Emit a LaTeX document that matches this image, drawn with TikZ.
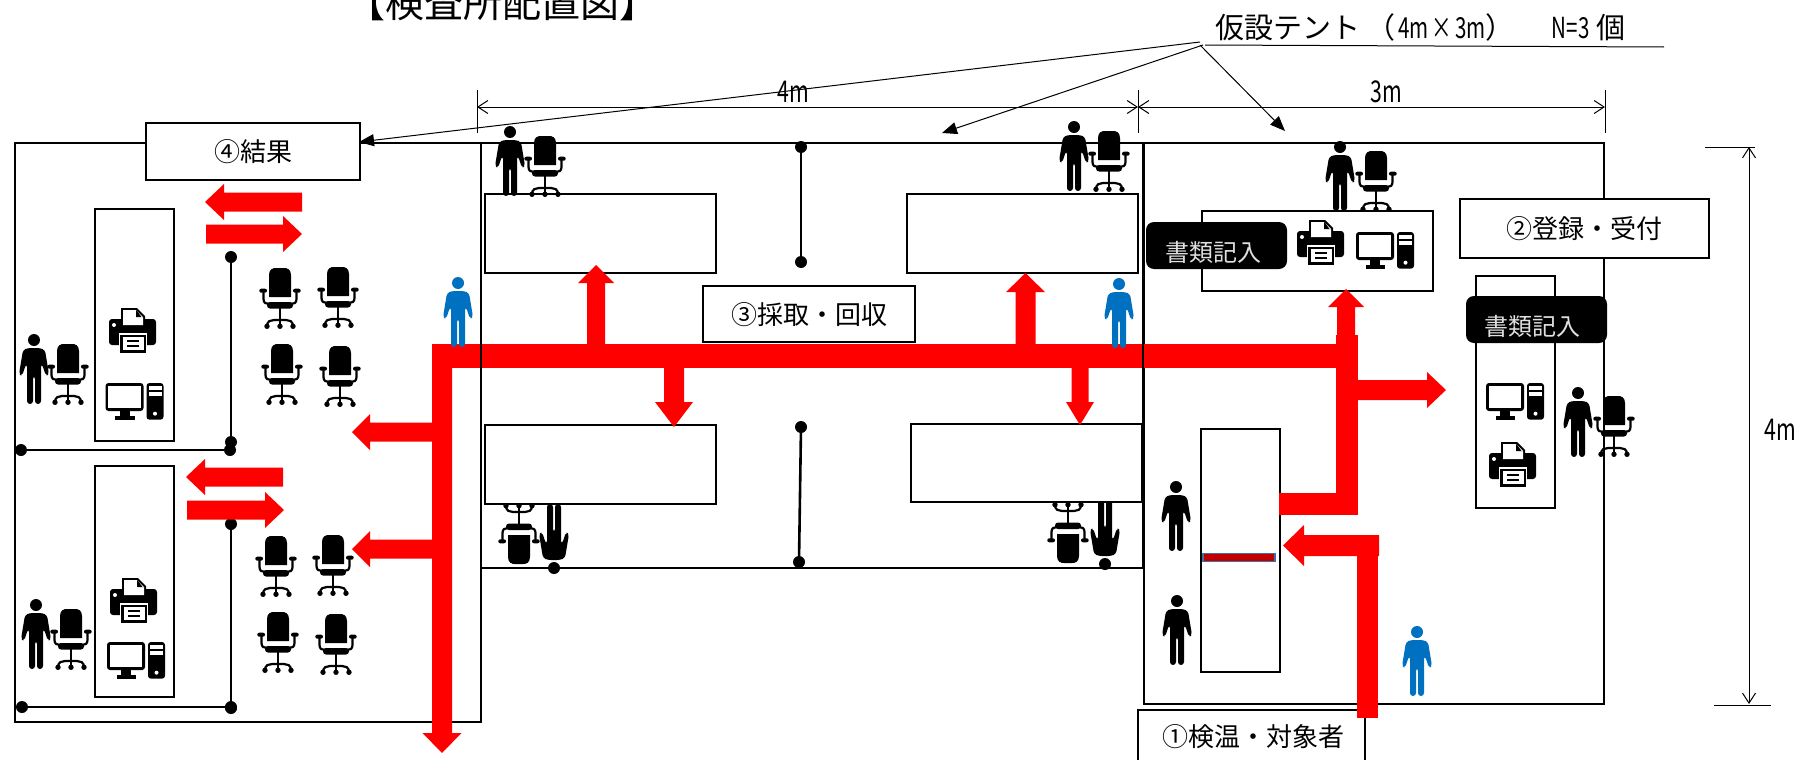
\documentclass[tikz,border=0pt]{standalone}
\usepackage{fontspec}
\setmainfont{Noto Sans CJK JP}
\newfontfamily\hw[FakeStretch=0.71]{Noto Sans CJK JP}
\usetikzlibrary{arrows.meta}
\newcommand{\harrow}[6]{\fill[redflow] (#1,{#3-#4}) -- ({#2-(#5)},{#3-#4}) -- ({#2-(#5)},{#3-#6}) -- (#2,#3) -- ({#2-(#5)},{#3+#6}) -- ({#2-(#5)},{#3+#4}) -- (#1,{#3+#4}) -- cycle;}
\newcommand{\varrow}[6]{\fill[redflow] ({#3-#4},#1) -- ({#3-#4},{#2-(#5)}) -- ({#3-#6},{#2-(#5)}) -- (#3,#2) -- ({#3+#6},{#2-(#5)}) -- ({#3+#4},{#2-(#5)}) -- ({#3+#4},#1) -- cycle;}
\tikzset{
  redflow/.style={fill={rgb,255:red,255;green,0;blue,0}},
  tent/.style={draw=black,line width=0.95pt},
  desk/.style={draw=black,line width=0.95pt,fill=white},
  partition/.style={draw=black,line width=1.3pt},
  labelbox/.style={draw=black,line width=0.8pt,fill=white},
  lbl/.style={font=\fontsize{13}{15}\selectfont,text=black,inner sep=0pt},
  dimlbl/.style={font=\fontsize{15}{17}\selectfont\hw,text=black,inner sep=0pt},
  formbox/.style={fill=black,rounded corners=4pt},
  formtext/.style={font=\fontsize{12}{15}\selectfont,text=black!12,inner sep=0pt},
  dim/.style={draw=black,line width=0.5pt},
  dimarrow/.style={dim,{Straight Barb[length=5pt,width=6.5pt]}-{Straight Barb[length=5pt,width=6.5pt]}},
  leader/.style={draw=black,line width=0.5pt,-{Triangle[length=7.5pt,width=6pt]}},
  personicon/.pic={
    \fill[pic actions] (0,6) circle (6);
    \fill[pic actions,rounded corners=1.5pt] (-6,14) -- (-11,16) -- (-15,40) -- (-12,42) -- (-8,30) -- (-7,30) -- (-7,70) -- (-1,70) -- (-1,42) -- (1,42) -- (1,70) -- (7,70) -- (7,30) -- (8,30) -- (12,42) -- (15,40) -- (11,16) -- (6,14) -- cycle;
  },
  chairicon/.pic={
    \fill (-11,29) -- (-11,7) .. controls (-11,1) and (-7,0) .. (-4,0) -- (4,0) .. controls (7,0) and (11,1) .. (11,7) -- (11,29) -- cycle;
    \fill[rounded corners=1pt] (-20.7,20.7) rectangle (-13,24.7);
    \fill[rounded corners=1pt] (13,20.7) rectangle (20.7,24.7);
    \draw[line width=1.1pt] (-16.5,23) -- (-16.5,31) .. controls (-16.5,35) and (-14,36) .. (-11,36) -- (11,36) .. controls (14,36) and (16.5,35) .. (16.5,31) -- (16.5,23);
    \fill[rounded corners=1.5pt] (-13,34) rectangle (13,40.5);
    \draw[line width=1.1pt] (0,40) -- (0,58);
    \draw[line width=1.1pt] (-13,58) .. controls (-13,53) and (-9,52) .. (-6,52) -- (6,52) .. controls (9,52) and (13,53) .. (13,58);
    \fill (-13,58.3) circle (2.7);
    \fill (0,58.3) circle (2.7);
    \fill (13,58.3) circle (2.7);
  },
  printericon/.pic={
    \fill[rounded corners=1.5pt] (0,11) rectangle (47,37);
    \fill[white] (9.5,25) rectangle (37.5,37.5);
    \fill (12,0) -- (28,0) -- (36,8) -- (36,17) -- (12,17) -- cycle;
    \fill[white] (14,2) -- (27,2) -- (34,9) -- (34,17) -- (14,17) -- cycle;
    \fill (27,2) -- (27,9) -- (34,9) -- (32.5,9) -- (28.5,3.5) -- cycle;
    \fill[white] (5,17) circle (2);
    \fill (11,27) rectangle (37,44.5);
    \fill[white] (13.5,29) rectangle (34.5,42);
    \fill (18,32) rectangle (29.5,34.2);
    \fill (18,37) rectangle (29.5,39.2);
  },
  computericon/.pic={
    \fill[rounded corners=1.5pt] (0,0) rectangle (38,28);
    \fill[white] (2.6,2.6) rectangle (35.4,25);
    \fill (14,28) rectangle (24,33.5);
    \fill (9.5,33) rectangle (29,36.7);
    \fill[rounded corners=1.5pt] (41,0) rectangle (58,36.7);
    \fill[white] (43.3,2.7) rectangle (56,6.7);
    \fill[white] (43.3,9) rectangle (56,13.3);
    \fill[white] (49.5,30.7) circle (2);
  },
}
\definecolor{bluefig}{HTML}{0070C0}
\begin{document}
\begin{tikzpicture}[x=0.5pt,y=-0.5pt]
\useasboundingbox (0,0) rectangle (1801,760);
\clip (0,0) rectangle (1801,760);
\fill[white] (0,0) rectangle (1801,760);

% tents
\draw[tent] (15,143) rectangle (481,722);
\draw[tent] (481,143) rectangle (1143,568);
\draw[tent] (1144,143) rectangle (1604,704);

% title
\node[lbl,font=\fontsize{19.5}{22}\selectfont] (title) at (502,3) {【検査所配置図】};
\node[lbl,anchor=west,font=\fontsize{14.5}{17}\selectfont] (tentlabel) at (1215,27) {仮設テント\hspace{3pt}（\hspace{1.5pt}{\hw 4m}\hspace{1.5pt}{\hw ×}\hspace{1.5pt}{\hw 3m}）\hspace{18.5pt}{\hw N=3}\hspace{3.5pt}個};

% upside-down icons under desks
\begin{scope}[shift={(519,564)},yscale=-1]\pic[transform shape] {chairicon};\end{scope}
\begin{scope}[shift={(554,574)},yscale=-1]\pic[transform shape,fill=black] {personicon};\end{scope}
\begin{scope}[shift={(1068,563)},yscale=-1]\pic[transform shape] {chairicon};\end{scope}
\begin{scope}[shift={(1105,570)},yscale=-1]\pic[transform shape,fill=black] {personicon};\end{scope}

% desks
\draw[desk] (95,209) rectangle (174,441);
\draw[desk] (95,466) rectangle (174,697);
\draw[desk] (485,194) rectangle (716,273);
\draw[desk] (907,194) rectangle (1138,273);
\draw[desk] (485,425) rectangle (716,504);
\draw[desk] (911,424) rectangle (1142,502);
\draw[desk] (1202,211) rectangle (1433,291);
\draw[desk] (1476,276) rectangle (1555,508);
\draw[desk] (1201,429) rectangle (1280,672);
\fill[fill={rgb,255:red,192;green,0;blue,0},draw={rgb,255:red,65;green,113;blue,156},line width=0.8pt] (1203,553.5) rectangle (1275,561.5);

% partition lines and end dots
\foreach \n/\ax/\ay/\bx/\by in {a/231/257/231/442,b/21/450/230/450,c/231/524/231/708,d/22/707/231/707,e/801/147/801/262,f/801/427/799/562}{
  \coordinate (\n1) at (\ax,\ay);
  \coordinate (\n2) at (\bx,\by);
  \draw[partition] (\n1) -- (\n2);
  \fill (\n1) circle (6);
  \fill (\n2) circle (6);
}

% label boxes
\draw[labelbox] (146,123) rectangle (360,180);
\node[lbl] (result) at (253,152) {④結果};
\draw[labelbox] (703,286) rectangle (915,342);
\node[lbl] (collect) at (809,315) {③採取・回収};
\draw[labelbox] (1460,199) rectangle (1709,258);
\node[lbl] (register) at (1584,229) {②登録・受付};
\draw[labelbox] (1138,710) rectangle (1365,770);
\node[lbl] (entry) at (1253,737) {①検温・対象者};

% red flow
\harrow{302}{205}{202}{9.5}{-19}{18}
\harrow{206}{302}{234}{9.5}{19}{18}
\harrow{283}{186}{477}{9.5}{-19}{18}
\harrow{187}{284}{510}{9.5}{19}{18}
\fill[redflow] (432,344) rectangle (1358,368);
\varrow{347}{753}{442}{10}{20}{19.5}
\harrow{434}{352}{432}{9.5}{-18}{18}
\harrow{434}{352}{549}{9.5}{-18}{18}
\varrow{346}{265}{596}{9}{-18}{18}
\varrow{346}{273}{1025.5}{10}{-19}{19.4}
\varrow{340}{289}{1346}{9}{-18}{18}
\varrow{366}{427}{674}{10}{25}{19}
\varrow{366}{425}{1080}{8.5}{23}{14}
\fill[redflow] (1336,335) rectangle (1358,512);
\fill[redflow] (1279,493) rectangle (1358,515);
\harrow{1356}{1446}{390}{10}{19}{18}
\fill[redflow] (1357,535) rectangle (1378,718);
\harrow{1379}{1283}{545.5}{10.5}{-21}{20.5}

% lines that stay visible over the flow
\draw[tent] (481,344) -- (481,368);
\draw[tent] (1143,344) -- (1143,368);

% icons
\foreach \x/\y in {280/268,338/267,282/344,340/346,276/536,333/535,278/612,336/614,68/344,71/609,545/136,1109/131,1376/151,1614/396}{
  \pic at (\x,\y) {chairicon};
}
\foreach \x/\y in {34/334,36/599,510/126,1074/121,1340/141,1578/387,1176/481,1177/595}{
  \pic[fill=black] at (\x,\y) {personicon};
}
\foreach \x/\y in {458/277,1119/278,1417/626}{
  \pic[fill=bluefig] at (\x,\y) {personicon};
}
\foreach \x/\y in {109/308,110/578,1297/220,1489/442}{
  \pic at (\x,\y) {printericon};
}
\foreach \x/\y in {105.5/383,107/642,1356/232,1486/383}{
  \pic at (\x,\y) {computericon};
}

% form boxes
\fill[formbox] (1146,222) rectangle (1287,269);
\node[formtext] (form1) at (1213,252) {書類記入};
\fill[formbox] (1466,296) rectangle (1607,343);
\node[formtext] (form2) at (1532,326) {書類記入};

% leaders
\coordinate (lead0) at (1205,45);
\coordinate (lead1) at (1664,47);
\coordinate (leadA) at (1200,42);
\coordinate (leadB) at (1203,45);
\coordinate (leadC) at (1200,45);
\coordinate (tipA) at (359,142);
\coordinate (tipB) at (942,133);
\coordinate (tipC) at (1285,131);
\draw[dim] (lead0) -- (lead1);
\draw[leader] (leadA) -- (tipA);
\draw[leader] (leadB) -- (tipB);
\draw[leader] (leadC) -- (tipC);

% dimensions
\coordinate (d1) at (477,107);
\coordinate (d2) at (1138,107);
\coordinate (d3) at (1605,107);
\coordinate (d1t) at (477,90);
\coordinate (d1b) at (477,133);
\coordinate (d2t) at (1138,90);
\coordinate (d2b) at (1138,133);
\coordinate (d3t) at (1605,90);
\coordinate (d3b) at (1605,133);
\draw[dim] (d1t) -- (d1b);
\draw[dim] (d2t) -- (d2b);
\draw[dim] (d3t) -- (d3b);
\draw[dimarrow] (d1) -- (d2);
\draw[dimarrow] (d2) -- (d3);
\node[dimlbl] (w4) at (793,92) {4m};
\node[dimlbl] (w3) at (1386,92) {3m};
\coordinate (v1) at (1749,147);
\coordinate (v2) at (1749,704);
\coordinate (v1a) at (1705,147);
\coordinate (v1b) at (1755,147);
\coordinate (v2a) at (1714,705);
\coordinate (v2b) at (1771,705);
\draw[dim] (v1a) -- (v1b);
\draw[dim] (v2a) -- (v2b);
\draw[dimarrow] (v1) -- (v2);
\node[dimlbl] (h4) at (1780,430) {4m};
\end{tikzpicture}
\end{document}
